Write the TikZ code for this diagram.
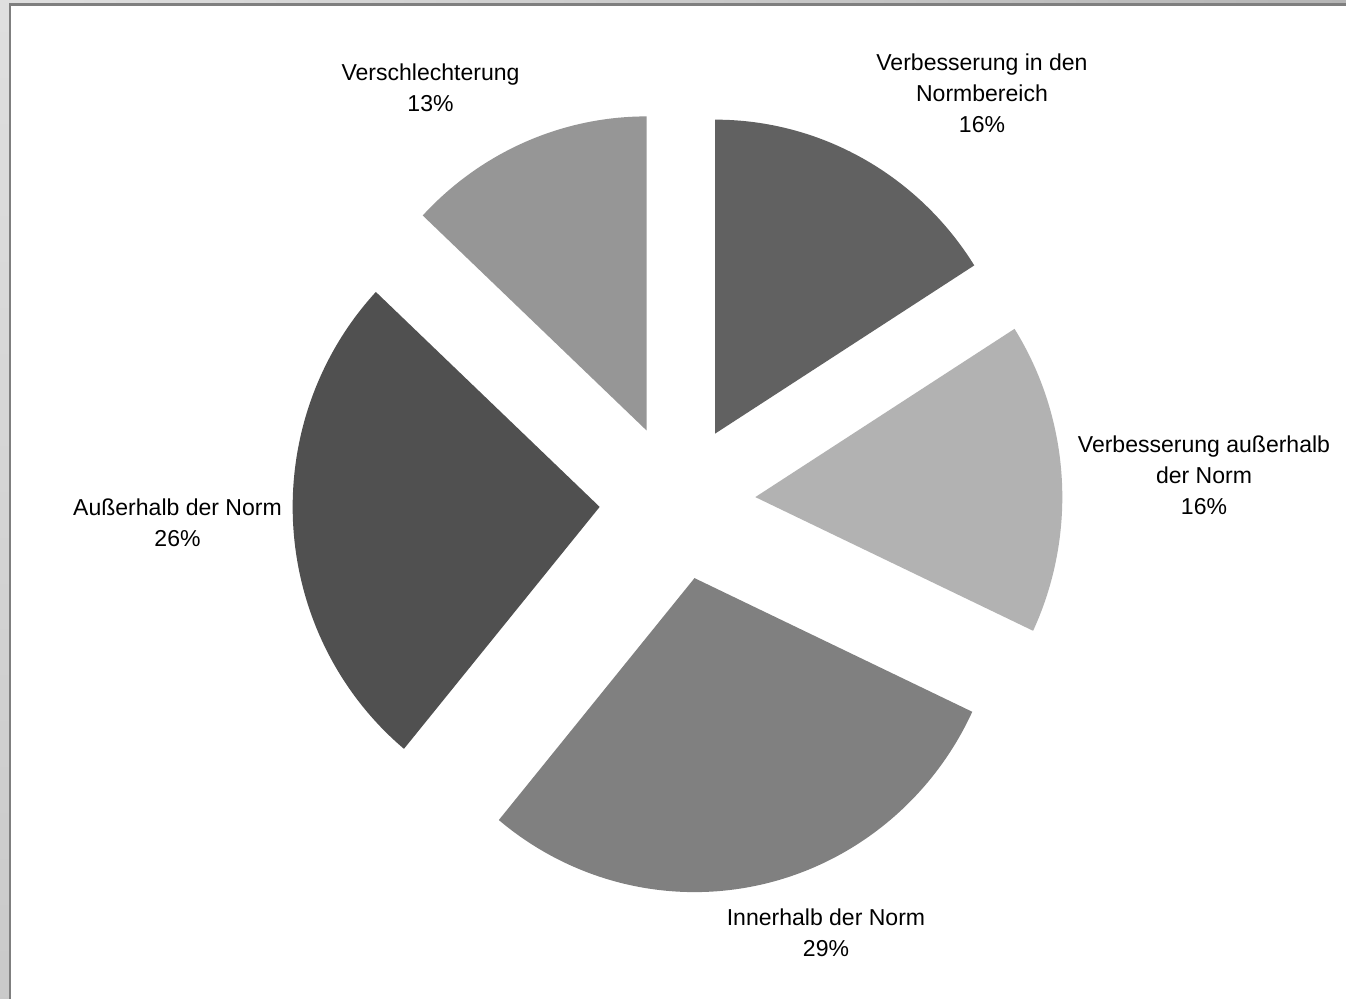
\documentclass[tikz,border=0pt]{standalone}
\usepackage{fontspec}
\setmainfont{Liberation Sans}

\definecolor{normber}{HTML}{616161}
\definecolor{ausserverb}{HTML}{B2B2B2}
\definecolor{innerhalb}{HTML}{808080}
\definecolor{ausserhalb}{HTML}{505050}
\definecolor{verschl}{HTML}{969696}
\definecolor{framegray}{HTML}{7F7F7F}

\begin{document}
\begin{tikzpicture}[every node/.style={align=center, inner sep=0pt, font=\fontsize{13.1}{17.6}\selectfont}]
\useasboundingbox (-13.55,-9.94) rectangle (13.37,10.04);
\fill[white] (-13.55,-9.94) rectangle (13.37,10.04);

% window frame
\shade[left color=gray!25, right color=gray!58] (-13.55,9.98) rectangle (13.37,10.04);
\fill[framegray] (-13.37,9.92) rectangle (13.37,9.98);
\shade[top color=gray!25, bottom color=gray!42] (-13.55,-9.94) rectangle (-13.37,9.98);
\fill[framegray] (-13.37,-9.94) rectangle (-13.33,9.98);

% slices
\fill[normber, shift={(61.2:1.56)}] (0,0) -- (90:6.14cm and 6.28cm)
  arc[start angle=90, end angle=32.4, x radius=6.14cm, y radius=6.28cm] -- cycle;
\fill[ausserverb, shift={(3.6:1.56)}] (0,0) -- (32.4:6.14cm and 6.28cm)
  arc[start angle=32.4, end angle=-25.2, x radius=6.14cm, y radius=6.28cm] -- cycle;
\fill[innerhalb, shift={(-77.4:1.56)}] (0,0) -- (-25.2:6.14cm and 6.28cm)
  arc[start angle=-25.2, end angle=-129.6, x radius=6.14cm, y radius=6.28cm] -- cycle;
\fill[ausserhalb, shift={(-176.4:1.56)}] (0,0) -- (-129.6:6.14cm and 6.28cm)
  arc[start angle=-129.6, end angle=-223.2, x radius=6.14cm, y radius=6.28cm] -- cycle;
\fill[verschl, shift={(113.4:1.56)}] (0,0) -- (136.8:6.14cm and 6.28cm)
  arc[start angle=136.8, end angle=90, x radius=6.14cm, y radius=6.28cm] -- cycle;

% labels
\node (lblnormber) at (6.09,8.17) {Verbesserung in den\\Normbereich\\16\%};
\node (lblausserverb) at (10.53,0.53) {Verbesserung außerhalb\\der Norm\\16\%};
\node (lblinnerhalb) at (2.97,-8.62) {Innerhalb der Norm\\29\%};
\node (lblausserhalb) at (-10.0,-0.42) {Außerhalb der Norm\\26\%};
\node (lblverschl) at (-4.94,8.28) {Verschlechterung\\13\%};
\end{tikzpicture}
\end{document}
